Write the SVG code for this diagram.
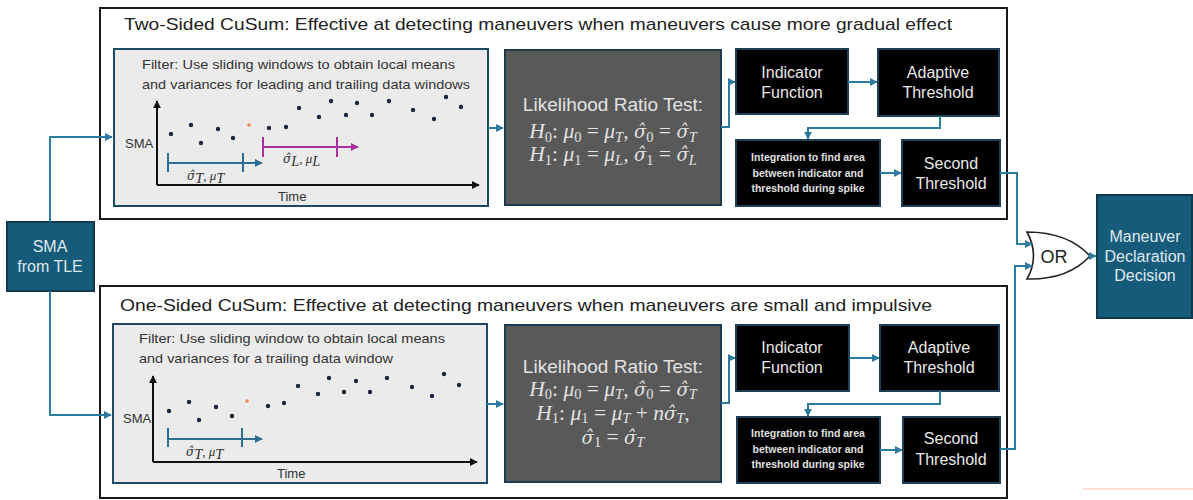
<svg xmlns="http://www.w3.org/2000/svg" width="1193" height="500" viewBox="0 0 1193 500">
<defs>
<style>
.outer{fill:#fff;stroke:#1a1a1a;stroke-width:2}
.filter{fill:#ebebeb;stroke:#1d4a63;stroke-width:2}
.lrtbox{fill:#595959;stroke:#1d3a4f;stroke-width:2}
.blk{fill:#000;stroke:#1d3f58;stroke-width:2}
.teal{fill:#175b7b;stroke:#0f3a50;stroke-width:2}
.title{font-family:"Liberation Sans",Arial,sans-serif;font-size:17px;fill:#222}
.ftxt{font-family:"Liberation Sans",Arial,sans-serif;font-size:13px;fill:#333}
.ax{font-family:"Liberation Sans",Arial,sans-serif;font-size:13px;fill:#333}
.lrt{font-family:"Liberation Sans",Arial,sans-serif;font-size:19px;fill:#e2e2e2;text-anchor:middle}
.math{font-family:"Liberation Serif","Times New Roman",serif;font-size:21.5px;font-style:italic;fill:#e2e2e2;text-anchor:middle}
.sub{font-size:14.5px;font-style:normal}
.subi{font-size:14.5px}
.hat{font-family:"DejaVu Serif",serif;font-size:18px}
.wt{font-family:"Liberation Sans",Arial,sans-serif;font-size:16px;fill:#e8e8e8;text-anchor:middle}
.small{font-family:"Liberation Sans",Arial,sans-serif;font-size:10.5px;font-weight:bold;fill:#e0e0e0;text-anchor:middle}
.lt{font-family:"Liberation Sans",Arial,sans-serif;font-size:16px;fill:#dfe9ee;text-anchor:middle}
.lbl{font-family:"Liberation Serif","Times New Roman",serif;font-size:13px;font-style:italic;fill:#333}
.lhat{font-family:"DejaVu Serif",serif;font-size:12px}
.conn{fill:none;stroke:#2d7aa0;stroke-width:2}
.axis{fill:none;stroke:#111;stroke-width:2}
.dot{fill:#1b2740}
.bb{fill:none;stroke:#2a6f92;stroke-width:2}
.mb{fill:none;stroke:#a8309f;stroke-width:2}
</style>
<marker id="ah" viewBox="0 0 10 10" refX="9" refY="5" markerWidth="4" markerHeight="4" orient="auto"><path d="M0,0L10,5L0,10z" fill="#2d7aa0"/></marker>
<marker id="ak" viewBox="0 0 10 10" refX="9" refY="5" markerWidth="4" markerHeight="4" orient="auto"><path d="M0,0L10,5L0,10z" fill="#111"/></marker>
<marker id="am" viewBox="0 0 10 10" refX="9" refY="5" markerWidth="4" markerHeight="4" orient="auto"><path d="M0,0L10,5L0,10z" fill="#a8309f"/></marker>
<marker id="ab" viewBox="0 0 10 10" refX="9" refY="5" markerWidth="4" markerHeight="4" orient="auto"><path d="M0,0L10,5L0,10z" fill="#2a6f92"/></marker>
</defs>

<g id="two-sided">
<rect class="outer" x="100" y="8" width="907" height="211"/>
<text class="title" x="124" y="30" textLength="828" lengthAdjust="spacingAndGlyphs">Two-Sided CuSum: Effective at detecting maneuvers when maneuvers cause more gradual effect</text>
</g>
<g id="one-sided">
<rect class="outer" x="100" y="286" width="907" height="212"/>
<text class="title" x="120" y="311" textLength="812" lengthAdjust="spacingAndGlyphs">One-Sided CuSum: Effective at detecting maneuvers when maneuvers are small and impulsive</text>
</g>

<g id="filter-top">
<rect class="filter" x="114" y="49" width="374" height="157"/>
<text class="ftxt" x="142" y="69" textLength="313" lengthAdjust="spacingAndGlyphs">Filter: Use sliding windows to obtain local means</text>
<text class="ftxt" x="142" y="89" textLength="328" lengthAdjust="spacingAndGlyphs">and variances for leading and trailing data windows</text>
<polyline class="axis" points="157,185 157,101" marker-end="url(#ak)"/>
<polyline class="axis" points="157,185 479,185" marker-end="url(#ak)"/>
<text class="ax" x="125" y="148">SMA</text>
<text class="ax" x="278" y="201">Time</text>
<g class="dot">
<circle cx="171" cy="134" r="2.2"/><circle cx="191" cy="125" r="2.2"/><circle cx="201" cy="143" r="2.2"/><circle cx="218" cy="129" r="2.2"/><circle cx="233" cy="138" r="2.2"/><circle cx="269" cy="128" r="2.2"/><circle cx="286" cy="127" r="2.2"/><circle cx="299" cy="108" r="2.2"/><circle cx="319" cy="117" r="2.2"/><circle cx="331" cy="101" r="2.2"/><circle cx="346" cy="115" r="2.2"/><circle cx="357" cy="103" r="2.2"/><circle cx="372" cy="115" r="2.2"/><circle cx="389" cy="101" r="2.2"/><circle cx="413" cy="110" r="2.2"/><circle cx="434" cy="119" r="2.2"/><circle cx="446" cy="97" r="2.2"/><circle cx="461" cy="107" r="2.2"/>
</g>
<circle cx="249" cy="125" r="1.8" fill="#f08a4b"/>
<line class="bb" x1="168" y1="153" x2="168" y2="172"/>
<line class="bb" x1="243" y1="153" x2="243" y2="172"/>
<polyline class="bb" points="168,163 262,163" marker-end="url(#ab)"/>
<text class="lbl" x="187" y="180"><tspan class="lhat">σ̂</tspan><tspan class="subi" dy="3">T</tspan><tspan dy="-3">, μ</tspan><tspan class="subi" dy="3">T</tspan></text>
<line class="mb" x1="263" y1="137" x2="263" y2="157"/>
<line class="mb" x1="337" y1="137" x2="337" y2="157"/>
<polyline class="mb" points="263,147 358,147" marker-end="url(#am)"/>
<text class="lbl" x="283" y="163"><tspan class="lhat">σ̂</tspan><tspan class="subi" dy="3">L</tspan><tspan dy="-3">, μ</tspan><tspan class="subi" dy="3">L</tspan></text>
</g>

<g id="filter-bottom">
<rect class="filter" x="113" y="324" width="374" height="159"/>
<text class="ftxt" x="139" y="343" textLength="306" lengthAdjust="spacingAndGlyphs">Filter: Use sliding window to obtain local means</text>
<text class="ftxt" x="139" y="363" textLength="254" lengthAdjust="spacingAndGlyphs">and variances for a trailing data window</text>
<polyline class="axis" points="153,462 153,376" marker-end="url(#ak)"/>
<polyline class="axis" points="153,462 477,462" marker-end="url(#ak)"/>
<text class="ax" x="123" y="423">SMA</text>
<text class="ax" x="277" y="478">Time</text>
<g class="dot">
<circle cx="169" cy="411" r="2.2"/><circle cx="189" cy="402" r="2.2"/><circle cx="199" cy="420" r="2.2"/><circle cx="216" cy="407" r="2.2"/><circle cx="232" cy="416" r="2.2"/><circle cx="268" cy="406" r="2.2"/><circle cx="284" cy="403" r="2.2"/><circle cx="298" cy="386" r="2.2"/><circle cx="318" cy="394" r="2.2"/><circle cx="329" cy="378" r="2.2"/><circle cx="344" cy="392" r="2.2"/><circle cx="356" cy="381" r="2.2"/><circle cx="370" cy="392" r="2.2"/><circle cx="387" cy="378" r="2.2"/><circle cx="412" cy="387" r="2.2"/><circle cx="432" cy="396" r="2.2"/><circle cx="444" cy="374" r="2.2"/><circle cx="459" cy="385" r="2.2"/>
</g>
<circle cx="247" cy="401" r="1.8" fill="#f08a4b"/>
<line class="bb" x1="168" y1="428" x2="168" y2="447"/>
<line class="bb" x1="242" y1="428" x2="242" y2="447"/>
<polyline class="bb" points="168,439 262,439" marker-end="url(#ab)"/>
<text class="lbl" x="186" y="456"><tspan class="lhat">σ̂</tspan><tspan class="subi" dy="3">T</tspan><tspan dy="-3">, μ</tspan><tspan class="subi" dy="3">T</tspan></text>
</g>

<g id="lrt-top">
<rect class="lrtbox" x="505" y="50" width="216" height="155"/>
<text class="lrt" x="613" y="111">Likelihood Ratio Test:</text>
<text class="math" x="613" y="138">H<tspan class="sub" dy="4">0</tspan><tspan dy="-4" font-style="normal">: </tspan>μ<tspan class="sub" dy="4">0</tspan><tspan dy="-4" font-style="normal"> = </tspan>μ<tspan class="subi" dy="4">T</tspan><tspan dy="-4">, </tspan><tspan class="hat">σ̂</tspan><tspan class="sub" dy="4">0</tspan><tspan dy="-4" font-style="normal"> = </tspan><tspan class="hat">σ̂</tspan><tspan class="subi" dy="4">T</tspan></text>
<text class="math" x="613" y="161">H<tspan class="sub" dy="4">1</tspan><tspan dy="-4" font-style="normal">: </tspan>μ<tspan class="sub" dy="4">1</tspan><tspan dy="-4" font-style="normal"> = </tspan>μ<tspan class="subi" dy="4">L</tspan><tspan dy="-4">, </tspan><tspan class="hat">σ̂</tspan><tspan class="sub" dy="4">1</tspan><tspan dy="-4" font-style="normal"> = </tspan><tspan class="hat">σ̂</tspan><tspan class="subi" dy="4">L</tspan></text>
</g>

<g id="lrt-bottom">
<rect class="lrtbox" x="505" y="325" width="216" height="157"/>
<text class="lrt" x="613" y="373">Likelihood Ratio Test:</text>
<text class="math" x="613" y="396">H<tspan class="sub" dy="3">0</tspan><tspan dy="-3" font-style="normal">: </tspan>μ<tspan class="sub" dy="3">0</tspan><tspan dy="-3" font-style="normal"> = </tspan>μ<tspan class="subi" dy="3">T</tspan><tspan dy="-3">, </tspan><tspan class="hat">σ̂</tspan><tspan class="sub" dy="3">0</tspan><tspan dy="-3" font-style="normal"> = </tspan><tspan class="hat">σ̂</tspan><tspan class="subi" dy="3">T</tspan></text>
<text class="math" x="613" y="420">H<tspan class="sub" dy="3">1</tspan><tspan dy="-3" font-style="normal">: </tspan>μ<tspan class="sub" dy="3">1</tspan><tspan dy="-3" font-style="normal"> = </tspan>μ<tspan class="subi" dy="3">T</tspan><tspan dy="-3" font-style="normal"> + </tspan>n<tspan class="hat">σ̂</tspan><tspan class="subi" dy="3">T</tspan><tspan dy="-3">,</tspan></text>
<text class="math" x="613" y="444"><tspan class="hat">σ̂</tspan><tspan class="sub" dy="3">1</tspan><tspan dy="-3" font-style="normal"> = </tspan><tspan class="hat">σ̂</tspan><tspan class="subi" dy="3">T</tspan></text>
</g>

<g id="indicator-top"><rect class="blk" x="736" y="49" width="112" height="65"/><text class="wt" x="792" y="78">Indicator</text><text class="wt" x="792" y="98">Function</text></g>
<g id="adaptive-top"><rect class="blk" x="878" y="49" width="121" height="67"/><text class="wt" x="938" y="78">Adaptive</text><text class="wt" x="938" y="98">Threshold</text></g>
<g id="integration-top"><rect class="blk" x="736" y="140" width="144" height="66"/><text class="small" x="808" y="161">Integration to find area</text><text class="small" x="808" y="177">between indicator and</text><text class="small" x="808" y="192">threshold during spike</text></g>
<g id="second-top"><rect class="blk" x="902" y="140" width="98" height="66"/><text class="wt" x="951" y="169">Second</text><text class="wt" x="951" y="189">Threshold</text></g>

<g id="indicator-bottom"><rect class="blk" x="736" y="325" width="113" height="66"/><text class="wt" x="792" y="353">Indicator</text><text class="wt" x="792" y="373">Function</text></g>
<g id="adaptive-bottom"><rect class="blk" x="880" y="325" width="119" height="66"/><text class="wt" x="939" y="353">Adaptive</text><text class="wt" x="939" y="373">Threshold</text></g>
<g id="integration-bottom"><rect class="blk" x="737" y="417" width="143" height="66"/><text class="small" x="808" y="437">Integration to find area</text><text class="small" x="808" y="453">between indicator and</text><text class="small" x="808" y="468">threshold during spike</text></g>
<g id="second-bottom"><rect class="blk" x="903" y="417" width="97" height="66"/><text class="wt" x="951" y="444">Second</text><text class="wt" x="951" y="465">Threshold</text></g>

<g id="sma-tle"><rect class="teal" x="7" y="222" width="87" height="69"/><text class="lt" x="50" y="252">SMA</text><text class="lt" x="50" y="272">from TLE</text></g>
<g id="maneuver"><rect class="teal" x="1097" y="195" width="95" height="123"/><text class="lt" x="1145" y="242" font-size="15">Maneuver</text><text class="lt" x="1145" y="262" font-size="15">Declaration</text><text class="lt" x="1145" y="281" font-size="15">Decision</text></g>
<g id="or-gate">
<path d="M1027,232 Q1040,256 1027,279 Q1068,280 1090,256 Q1068,232 1027,232 Z" fill="#fff" stroke="#222" stroke-width="1.6"/>
<text x="1054" y="263" font-family="Liberation Sans,Arial,sans-serif" font-size="18" fill="#222" text-anchor="middle">OR</text>
</g>

<g id="connectors">
<polyline class="conn" points="50,222 50,137 112,137" marker-end="url(#ah)"/>
<polyline class="conn" points="50,291 50,415 111,415" marker-end="url(#ah)"/>
<polyline class="conn" points="488,128 503,128" marker-end="url(#ah)"/>
<polyline class="conn" points="487,404 503,404" marker-end="url(#ah)"/>
<polyline class="conn" points="721,127 729,127 729,82 735,82" marker-end="url(#ah)"/>
<polyline class="conn" points="848,82 877,82" marker-end="url(#ah)"/>
<polyline class="conn" points="940,116 940,128 808,128 808,139" marker-end="url(#ah)"/>
<polyline class="conn" points="880,173 901,173" marker-end="url(#ah)"/>
<polyline class="conn" points="1000,173 1017,173 1017,244 1032,244" marker-end="url(#ah)"/>
<polyline class="conn" points="721,403 729,403 729,358 735,358" marker-end="url(#ah)"/>
<polyline class="conn" points="849,358 879,358" marker-end="url(#ah)"/>
<polyline class="conn" points="940,391 940,404 808,404 808,416" marker-end="url(#ah)"/>
<polyline class="conn" points="880,450 902,450" marker-end="url(#ah)"/>
<polyline class="conn" points="1000,449 1015,449 1015,266 1032,266" marker-end="url(#ah)"/>
<polyline class="conn" points="1090,256 1096,256" marker-end="url(#ah)"/>
</g>
<line x1="1083" y1="489" x2="1193" y2="489" stroke="#f6c3b4" stroke-width="1"/>
</svg>
